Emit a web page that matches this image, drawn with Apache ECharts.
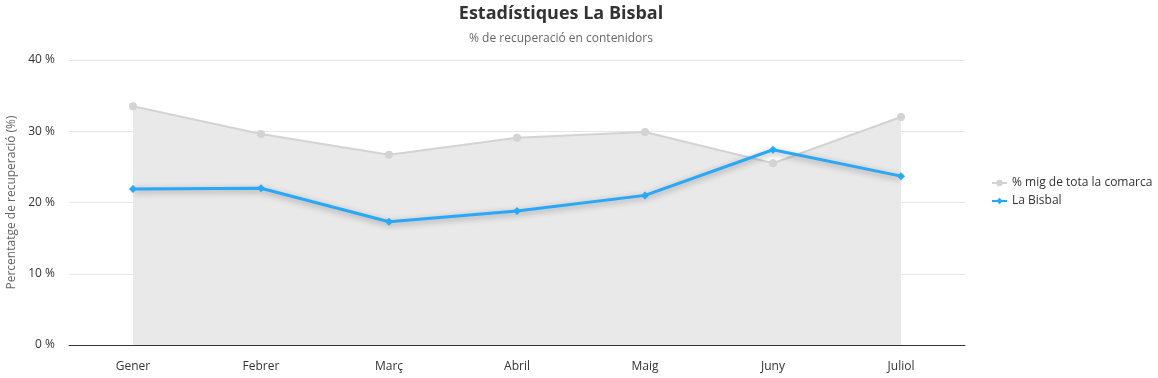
<!DOCTYPE html>
<html><head><meta charset="utf-8">
<script src="https://cdn.jsdelivr.net/npm/echarts@6/dist/echarts.min.js"></script>
<style>html,body{margin:0;padding:0;background:#fff}#c{width:1158px;height:378px}</style>
</head><body><div id="c"></div>
<script>
var categories = ['Gener','Febrer','Març','Abril','Maig','Juny','Juliol'];
var comarcaValues = [33.5, 29.6, 26.7, 29.1, 29.9, 25.5, 32.0];
var bisbalValues = [21.9, 22.0, 17.3, 18.8, 21.0, 27.4, 23.7];
var yTicks = [0, 10, 20, 30, 40];

var font = "'Open Sans', 'Noto Sans', sans-serif";
var chart = echarts.init(document.getElementById('c'));
chart.setOption({
  animation: false,
  textStyle: {fontFamily: font},
  title: [
    {text: 'Estadístiques La Bisbal', left: 556, top: 0, textAlign: 'center',
     textStyle: {fontSize: 18, fontWeight: 'bold', color: '#333', fontFamily: font}},
    {text: '% de recuperació en contenidors', left: 556, top: 28, textAlign: 'center',
     textStyle: {fontSize: 12, fontWeight: 'normal', color: '#666', fontFamily: font}}
  ],
  legend: {
    orient: 'vertical', left: 986, top: 172, itemGap: 6, itemWidth: 15, itemHeight: 8,
    textStyle: {fontSize: 12, color: '#333', fontFamily: font},
    data: ['% mig de tota la comarca', 'La Bisbal']
  },
  grid: {left: 69, right: 193, top: 60, bottom: 33, containLabel: false, outerBoundsMode: 'none'},
  xAxis: {
    type: 'category', data: categories, boundaryGap: true,
    axisLine: {lineStyle: {color: '#333', width: 1}},
    axisTick: {show: false},
    axisLabel: {color: '#333', fontSize: 12, margin: 16, fontFamily: font}
  },
  yAxis: {
    type: 'value', min: yTicks[0], max: yTicks[yTicks.length - 1], interval: 10,
    name: 'Percentatge de recuperació (%)', nameLocation: 'middle', nameGap: 51, nameRotate: 90,
    nameTextStyle: {color: '#666', fontSize: 12, fontFamily: font},
    axisLine: {show: false}, axisTick: {show: false},
    axisLabel: {formatter: '{value} %', color: '#333', fontSize: 12, margin: 14, fontFamily: font},
    splitLine: {lineStyle: {color: '#e6e6e6'}}
  },
  series: [
    {
      name: '% mig de tota la comarca', type: 'line', data: comarcaValues,
      symbol: 'circle', symbolSize: 8, smooth: false,
      itemStyle: {color: '#d3d3d3'},
      lineStyle: {color: '#d3d3d3', width: 2},
      areaStyle: {color: '#e9e9e9', opacity: 1},
      z: 1
    },
    {
      name: 'La Bisbal', type: 'line', data: bisbalValues,
      symbol: 'diamond', symbolSize: 8,
      itemStyle: {color: '#27a8f8'},
      lineStyle: {color: '#27a8f8', width: 3, shadowColor: 'rgba(0,0,0,0.35)', shadowBlur: 6, shadowOffsetY: 2},
      z: 3
    }
  ]
});
</script></body></html>
